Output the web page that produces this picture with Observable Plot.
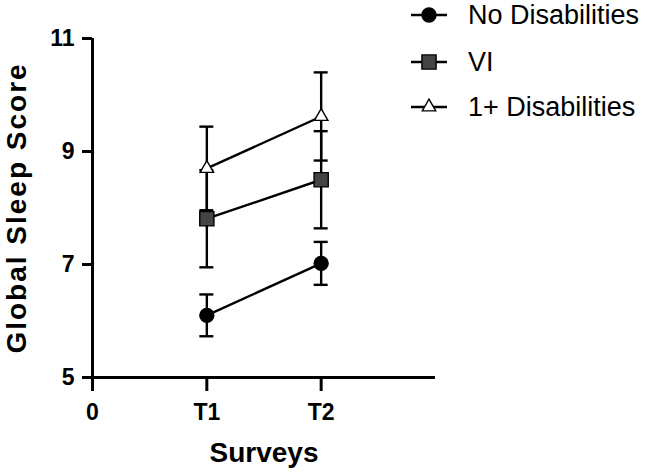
<!DOCTYPE html>
<html><head><meta charset="utf-8">
<script src="https://cdn.jsdelivr.net/npm/d3@7"></script>
<script src="https://cdn.jsdelivr.net/npm/@observablehq/plot@0.6"></script>
<style>
body{margin:0;background:#fff;}
#wrap{position:relative;width:650px;height:473px;font-family:"Liberation Sans",Arial,sans-serif;}
#legend{position:absolute;left:0;top:0;width:650px;height:130px;pointer-events:none;}
.row{position:absolute;left:410px;height:40px;display:flex;align-items:center;}
.row span{font-size:27px;color:#000;margin-left:20px;white-space:nowrap;}
</style></head><body><div id="wrap"><div id="legend"></div></div>
<script>
// ---- data ----
const surveyNames = ["T1", "T2"];
const surveyPos = [1, 2];
const xTickValues = [0, 1, 2];
const xTickLabels = ["0", "T1", "T2"];
const yTicks = [5, 7, 9, 11];
const groups = ["No Disabilities", "VI", "1+ Disabilities"];
const noDisMean = [6.10, 7.02];
const noDisErr = [0.37, 0.38];
const viMean = [7.81, 8.50];
const viErr = [0.86, 0.86];
const plusMean = [8.70, 9.62];
const plusErr = [0.74, 0.78];

// ---- styling per series ----
const series = [
  {name: groups[0], mean: noDisMean, err: noDisErr, symbol: "circle", fill: "#000", r: 7},
  {name: groups[1], mean: viMean, err: viErr, symbol: "square", fill: "#444", r: 8},
  {name: groups[2], mean: plusMean, err: plusErr, symbol: "triangle", fill: "#fff", r: 5}
];

const rows = series.map(s => surveyPos.map((x, i) => ({
  group: s.name, survey: surveyNames[i], x,
  mean: s.mean[i], lo: s.mean[i] - s.err[i], hi: s.mean[i] + s.err[i]
})));

const marks = [];
series.forEach((s, k) => {
  const data = rows[k];
  marks.push(Plot.ruleX(data, {x: "x", y1: "lo", y2: "hi", stroke: "#000", strokeWidth: 2.4}));
  marks.push(Plot.ruleY(data, {y: "lo", x1: "x", x2: "x", insetLeft: -7, insetRight: -7, stroke: "#000", strokeWidth: 2.4}));
  marks.push(Plot.ruleY(data, {y: "hi", x1: "x", x2: "x", insetLeft: -7, insetRight: -7, stroke: "#000", strokeWidth: 2.4}));
});
series.forEach((s, k) => {
  const data = rows[k];
  marks.push(Plot.line(data, {x: "x", y: "mean", stroke: "#000", strokeWidth: 2.4}));
  marks.push(Plot.dot(data, {x: "x", y: "mean", symbol: s.symbol, r: s.r, fill: s.fill, stroke: "#000", strokeWidth: 1.4}));
});

const chart = Plot.plot({
  width: 650,
  height: 473,
  marginLeft: 92,
  marginRight: 215,
  marginTop: 38,
  marginBottom: 96,
  style: {fontFamily: "'Liberation Sans', Arial, sans-serif", color: "#000", background: "#fff"},
  x: {domain: [0, 3]},
  y: {domain: [5, 11]},
  marks: [
    Plot.axisY({ticks: yTicks, tickFormat: d => String(d), tickSize: 10, tickPadding: 8, strokeWidth: 3, fontSize: 23, fontWeight: "bold", label: null}),
    Plot.axisX({ticks: xTickValues, tickFormat: d => xTickLabels[xTickValues.indexOf(d)], tickSize: 14, tickPadding: 12, strokeWidth: 3, fontSize: 23, fontWeight: "bold", label: null}),
    Plot.ruleX([0], {stroke: "#000", strokeWidth: 3}),
    Plot.ruleY([5], {stroke: "#000", strokeWidth: 3}),
    Plot.text(["Global Sleep Score"], {frameAnchor: "left", textAnchor: "middle", lineAnchor: "middle", rotate: -90, dx: -75, fontSize: 28, fontWeight: "bold", fill: "#000"}),
    Plot.text(["Surveys"], {frameAnchor: "bottom", textAnchor: "middle", lineAnchor: "middle", dy: 76, fontSize: 28, fontWeight: "bold", fill: "#000"}),
    ...marks
  ]
});
document.getElementById("wrap").appendChild(chart);
d3.select(chart).selectAll("text").filter(function(){ return this.textContent === "Global Sleep Score"; }).style("letter-spacing", "2px");

// ---- legend ----
const legend = d3.select("#legend");
const rowCenters = [15, 62, 107];
series.forEach((s, k) => {
  const row = legend.append("div").attr("class", "row").style("top", (rowCenters[k] - 20) + "px");
  const svg = row.append("svg").attr("width", 38).attr("height", 40);
  svg.append("line").attr("x1", 1).attr("x2", 37).attr("y1", 20).attr("y2", 20).attr("stroke", "#000").attr("stroke-width", 2.4);
  const sym = {circle: d3.symbolCircle, square: d3.symbolSquare, triangle: d3.symbolTriangle}[s.symbol];
  svg.append("path").attr("transform", "translate(19,20)")
    .attr("d", d3.symbol(sym, Math.PI * s.r * s.r)())
    .attr("fill", s.fill).attr("stroke", "#000").attr("stroke-width", 1.4);
  row.append("span").text(s.name);
});
</script>
</body></html>
